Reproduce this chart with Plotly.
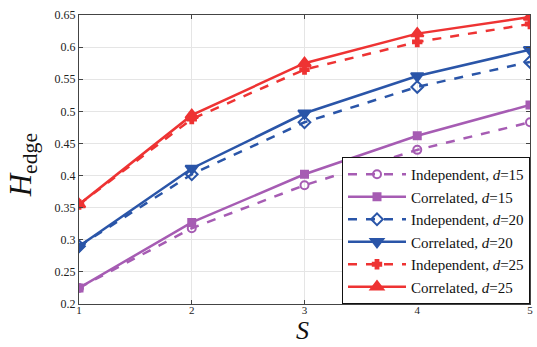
import plotly.graph_objects as go

S = [1, 2, 3, 4, 5]
ind15 = [0.225, 0.318, 0.385, 0.440, 0.483]
cor15 = [0.225, 0.327, 0.402, 0.462, 0.510]
ind20 = [0.290, 0.402, 0.483, 0.538, 0.577]
cor20 = [0.290, 0.411, 0.497, 0.555, 0.596]
ind25 = [0.355, 0.488, 0.565, 0.608, 0.636]
cor25 = [0.355, 0.494, 0.575, 0.621, 0.647]

yticks = [0.2, 0.25, 0.3, 0.35, 0.4, 0.45, 0.5, 0.55, 0.6, 0.65]
ytick_text = ["0.2", "0.25", "0.3", "0.35", "0.4", "0.45", "0.5", "0.55", "0.6", "0.65"]

purple = "#A65CB3"
blue = "#2A55A8"
red = "#EE3333"

series = [
    ("Independent, <i>d</i>=15", ind15, purple, "dash", "circle-open", 8),
    ("Correlated, <i>d</i>=15", cor15, purple, "solid", "square", 7),
    ("Independent, <i>d</i>=20", ind20, blue, "dash", "diamond-open", 9),
    ("Correlated, <i>d</i>=20", cor20, blue, "solid", "triangle-down", 11),
    ("Independent, <i>d</i>=25", ind25, red, "dash", "cross", 7),
    ("Correlated, <i>d</i>=25", cor25, red, "solid", "triangle-up", 11),
]

fig = go.Figure()
for name, ys, col, dash, sym, size in series:
    fig.add_trace(go.Scatter(
        x=S, y=ys, name=name, mode="lines+markers",
        line=dict(color=col, width=2.5, dash=dash),
        marker=dict(symbol=sym, size=size, color=col, line=dict(color=col, width=2)),
    ))

font = "Liberation Serif"
fig.update_layout(
    width=537, height=347,
    margin=dict(l=79, r=4, t=15, b=43),
    paper_bgcolor="white", plot_bgcolor="white",
    font=dict(family=font, size=12, color="#222"),
    legend=dict(
        x=1, y=0, xanchor="right", yanchor="bottom",
        bgcolor="white", bordercolor="#111", borderwidth=1,
        font=dict(family=font, size=15, color="#111"),
        itemwidth=58, tracegroupgap=0,
    ),
    xaxis=dict(
        range=[1, 5], tickvals=S, ticktext=[str(v) for v in S],
        showgrid=True, gridcolor="#E5E5E5", gridwidth=1,
        showline=True, linecolor="#444", linewidth=1, mirror="ticks",
        ticks="inside", ticklen=4, tickcolor="#444",
        tickfont=dict(family=font, size=11), ticklabelstandoff=-4,
        zeroline=False,
    ),
    yaxis=dict(
        range=[0.2, 0.65], tickvals=yticks, ticktext=ytick_text,
        showgrid=True, gridcolor="#E5E5E5", gridwidth=1,
        showline=True, linecolor="#444", linewidth=1, mirror="ticks",
        ticks="inside", ticklen=4, tickcolor="#444",
        tickfont=dict(family=font, size=12),
        zeroline=False,
    ),
    annotations=[
        dict(text="<i>S</i>", xref="paper", yref="paper", x=0.496, y=-43/289,
             xanchor="center", yanchor="bottom", yshift=0, showarrow=False,
             font=dict(family=font, size=26, color="#111")),
        dict(text="<i>H</i><sub>edge</sub>", xref="paper", yref="paper", x=0, y=0.48,
             xanchor="left", yanchor="middle", xshift=-78, textangle=-90, showarrow=False,
             font=dict(family=font, size=31, color="#111")),
    ],
)

fig.write_html("out.html")
